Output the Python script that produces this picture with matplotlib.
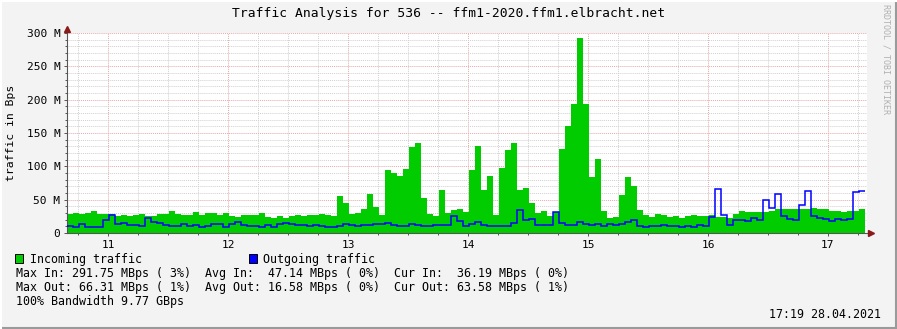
import numpy as np
import matplotlib.pyplot as plt
from matplotlib.lines import Line2D
from matplotlib.patches import Rectangle
from matplotlib.ticker import FuncFormatter
import matplotlib.transforms as mtransforms

# traffic per time bin (MBps)
incoming = [29, 30, 29, 30, 32.5, 29, 29, 29, 25.5, 26.5, 25.5, 27, 28.5, 25.5, 25.5, 29,
            29, 32.5, 29, 27.5, 27.5, 31, 27.5, 30, 30, 27.5, 30, 25.5, 24, 26.5, 27, 27,
            30, 24, 22.5, 25.5, 22.5, 25.5, 27, 26, 27, 27.5, 28, 26.5, 26, 55.5, 45, 29, 30,
            36, 58.5, 39, 27, 94.5, 90, 85.5, 96, 129, 135, 52.5, 28.5, 26, 64.5, 30, 34.5,
            36, 31.5, 94.5, 130.5,
            64.5, 85.5, 27, 97.5, 124.5, 135, 64.5, 67.5, 45, 30, 33, 25.5, 31.5, 126, 160.5,
            193.5, 291.75, 193.5, 84, 111, 33, 22.5,
            24, 57, 84, 70.5, 34.5, 27, 24, 28.5, 27, 24, 25.5, 22.5, 25.5, 27, 25.5, 25.5,
            27, 24, 24, 22.5, 28.5, 33,
            31.5, 31.5, 31.5, 31.5, 33, 36.5, 36.5, 36.5, 36.5, 36, 36, 37.5, 36, 36, 33, 33,
            31.5, 33, 33, 36.19]
outgoing = [10, 8.5, 13, 9.5, 9.5, 8.5, 19, 27, 14, 15, 11.5, 11.5, 10, 22, 16, 15,
            12, 10, 10, 13, 10, 11.5, 8.5, 10.5, 13.5, 13.5, 8.5, 13.5, 16.5, 12, 10, 10,
            9, 12, 8.5, 14, 15, 13.5, 12, 12, 10.5, 12, 10, 8.5, 8.5, 10, 13, 11.5, 10,
            11.5, 11.5, 13, 13, 14.5, 11.5, 10, 10, 13, 11.5, 10, 10, 11.5, 11.5, 11.5, 25,
            17.5, 10, 13, 16.5,
            12, 10.5, 10.5, 10.5, 10.5, 15, 34.5, 19.5, 21, 12, 12, 12, 31.5, 15, 12, 12,
            16.5, 13.5, 12, 13.5, 10.5, 13.5,
            11.5, 13, 16, 19, 10, 8.5, 10, 10, 11.5, 10, 10, 8.5, 10, 8.5, 11.5, 10, 23.5,
            66.31, 26.5, 11.5, 19, 19,
            17.5, 22, 19, 49, 37, 58, 25, 20.5, 19, 41.5, 62.5, 25, 22, 20.5, 17.5, 20.5,
            19, 20.5, 61, 63.58]
day_ticks = [11, 12, 13, 14, 15, 16, 17]
t_start, t_end = 10.658, 17.328
step = 0.05  # days per bin
edges = t_start + step * np.arange(len(incoming) + 1)

title = 'Traffic Analysis for 536 -- ffm1-2020.ffm1.elbracht.net'
legend_rows = [
    'Max In: 291.75 MBps ( 3%)  Avg In:  47.14 MBps ( 0%)  Cur In:  36.19 MBps ( 0%)',
    'Max Out: 66.31 MBps ( 1%)  Avg Out: 16.58 MBps ( 0%)  Cur Out: 63.58 MBps ( 1%)',
    '100% Bandwidth 9.77 GBps',
]
stamp = '17:19 28.04.2021'

plt.rcParams['font.family'] = ['DejaVu Sans Mono']

W, H = 897, 329
fig = plt.figure(figsize=(W / 100, H / 100), dpi=100, facecolor='#F3F3F3')


def fx(x):
    return x / W


def fy(y):
    return 1 - y / H


ax = fig.add_axes([fx(67), fy(233), fx(867.3 - 67), 200 / H])
ax.set_facecolor('white')
ax.set_xlim(t_start, t_end)
ax.set_ylim(0, 300)

# grid
ax.set_yticks(np.arange(0, 301, 50))
ax.set_yticks(np.arange(0, 301, 10), minor=True)
ax.set_xticks(day_ticks)
ax.set_xticks(np.arange(10.75, 17.33, 0.25), minor=True)
ax.set_axisbelow(True)
ax.grid(which='minor', color='#D0D0D0', ls=(0, (1, 1)), lw=0.7)
ax.grid(which='major', color='#E3AAAA', ls=(0, (1, 1)), lw=0.7)

ax.yaxis.set_major_formatter(FuncFormatter(lambda v, p: '0' if v == 0 else f'{v:.0f} M'))
ax.tick_params(which='both', direction='out', colors='#555555', labelcolor='black',
               labelsize=8, width=0.7)
ax.tick_params(which='major', length=2.2, pad=2.5)
ax.tick_params(which='minor', length=1.6)
for s in ['top', 'right']:
    ax.spines[s].set_visible(False)
for s in ['left', 'bottom']:
    ax.spines[s].set_color('#555555')
    ax.spines[s].set_linewidth(0.8)

# data
ax.stairs(incoming, edges, fill=True, color='#00CC00', lw=0, zorder=2)
ax.stairs(outgoing, edges, baseline=None, color='#0000FF', lw=1.1, zorder=3)

# axis arrows
up = mtransforms.offset_copy(ax.transData, fig=fig, x=0, y=4, units='dots')
right = mtransforms.offset_copy(ax.transData, fig=fig, x=4, y=0, units='dots')
ax.plot([t_start], [300], marker='^', ms=5, color='#8B1A1A', mec='#8B1A1A',
        clip_on=False, transform=up, zorder=5)
ax.plot([t_end], [0], marker='>', ms=5, color='#8B1A1A', mec='#8B1A1A',
        clip_on=False, transform=right, zorder=5)

# title, axis label and watermark
fig.text(0.5, fy(13), title, ha='center', va='center', fontsize=9.4)
fig.text(fx(11), fy(133), 'traffic in Bps', rotation=90, ha='center', va='center',
         fontsize=8.2)
fig.text(fx(886), fy(4), 'RRDTOOL / TOBI OETIKER', rotation=270, ha='center', va='top',
         fontsize=6, color='#B0B0B0')

# legend
fig.add_artist(Rectangle((fx(15), fy(263)), fx(8), 9 / H, transform=fig.transFigure,
                         facecolor='#00CC00', edgecolor='black', lw=0.7))
fig.text(fx(30), fy(259), 'Incoming traffic', va='center', fontsize=8.4)
fig.add_artist(Rectangle((fx(249), fy(263)), fx(8), 9 / H, transform=fig.transFigure,
                         facecolor='#0000FF', edgecolor='black', lw=0.7))
fig.text(fx(263), fy(259), 'Outgoing traffic', va='center', fontsize=8.4)
for i, row in enumerate(legend_rows):
    fig.text(fx(15.5), fy(273 + 14 * i), row, va='center', fontsize=8.4)
fig.text(fx(881), fy(315), stamp, ha='right', va='center', fontsize=8.4)

# 3d frame of the canvas
fig.add_artist(Line2D([0, 1], [fy(328), fy(328)], transform=fig.transFigure,
                      color='#9A9A9A', lw=1.5))
fig.add_artist(Line2D([fx(896), fx(896)], [0, 1], transform=fig.transFigure,
                      color='#9A9A9A', lw=1.5))
fig.add_artist(Line2D([0, 1], [fy(0.5), fy(0.5)], transform=fig.transFigure,
                      color='white', lw=1.5))
fig.add_artist(Line2D([fx(0.5), fx(0.5)], [0, 1], transform=fig.transFigure,
                      color='white', lw=1.5))

fig.savefig('out.png', dpi=100, facecolor=fig.get_facecolor())
